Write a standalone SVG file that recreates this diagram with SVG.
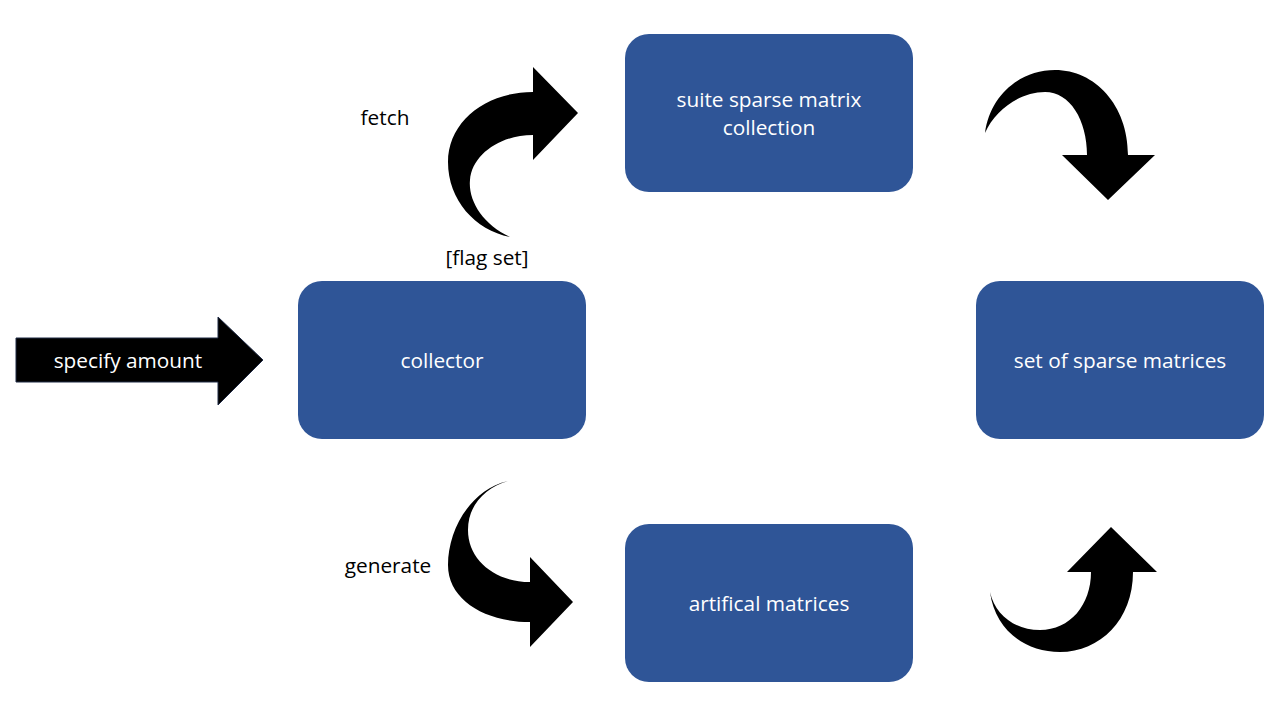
<svg xmlns="http://www.w3.org/2000/svg" width="1280" height="720" viewBox="0 0 1280 720">
<style>
.box{fill:#2F5597;}
.bt{fill:#ffffff;font-family:"Open Sans","Liberation Sans",sans-serif;font-size:20.8px;text-anchor:middle;dominant-baseline:central;}
.lbl{fill:#000000;font-family:"Open Sans","Liberation Sans",sans-serif;font-size:20.8px;text-anchor:middle;dominant-baseline:central;}
.arr{fill:#000000;}
</style>
<rect width="1280" height="720" fill="#ffffff"/>
<g id="connectors">
<path id="specify-arrow" class="arr" stroke="#1f2a44" stroke-width="1" d="M16,338 L218,338 L218,317 L263,360 L218,405 L218,382 L16,382 Z"/>
<text class="bt" x="128" y="360">specify amount</text>
<path id="fetch-arrow" class="arr" d="M533,92 C485,92 448,122 448,162 C448,200 475,230 510,237 C482,224 468,200 470,180 C472,155 500,135 533,135 L533,160 L578,113 L533,67 Z"/>
<path id="to-set-top" class="arr" d="M985,133 C990,95 1020,70 1055,70 C1095,70 1128,105 1128,155 L1155,155 L1108,200 L1062,155 L1087,155 C1087,120 1070,92 1045,92 C1020,92 995,110 985,133 Z"/>
<path id="generate-arrow" class="arr" d="M508,481 C470,490 448,530 448,565 C448,600 485,622 530,622 L530,647 L573,602 L530,557 L530,582 C495,582 468,560 468,530 C468,505 485,488 508,481 Z"/>
<path id="to-set-bottom" class="arr" d="M990,592 C995,630 1025,652 1060,652 C1100,652 1133,620 1133,572 L1157,572 L1111,527 L1067,572 L1091,572 C1091,605 1070,630 1040,630 C1015,630 995,615 990,592 Z"/>
<text class="lbl" x="385" y="117">fetch</text>
<text class="lbl" x="487" y="257">[flag set]</text>
<text class="lbl" x="388" y="565">generate</text>
</g>
<g id="suite">
<rect class="box" x="625" y="34" width="288" height="158" rx="24"/>
<text class="bt" x="769" y="99">suite sparse matrix</text>
<text class="bt" x="769" y="127">collection</text>
</g>
<g id="collector">
<rect class="box" x="298" y="281" width="288" height="158" rx="24"/>
<text class="bt" x="442" y="360">collector</text>
</g>
<g id="set">
<rect class="box" x="976" y="281" width="288" height="158" rx="24"/>
<text class="bt" x="1120" y="360">set of sparse matrices</text>
</g>
<g id="artificial">
<rect class="box" x="625" y="524" width="288" height="158" rx="24"/>
<text class="bt" x="769" y="603">artifical matrices</text>
</g>
</svg>
